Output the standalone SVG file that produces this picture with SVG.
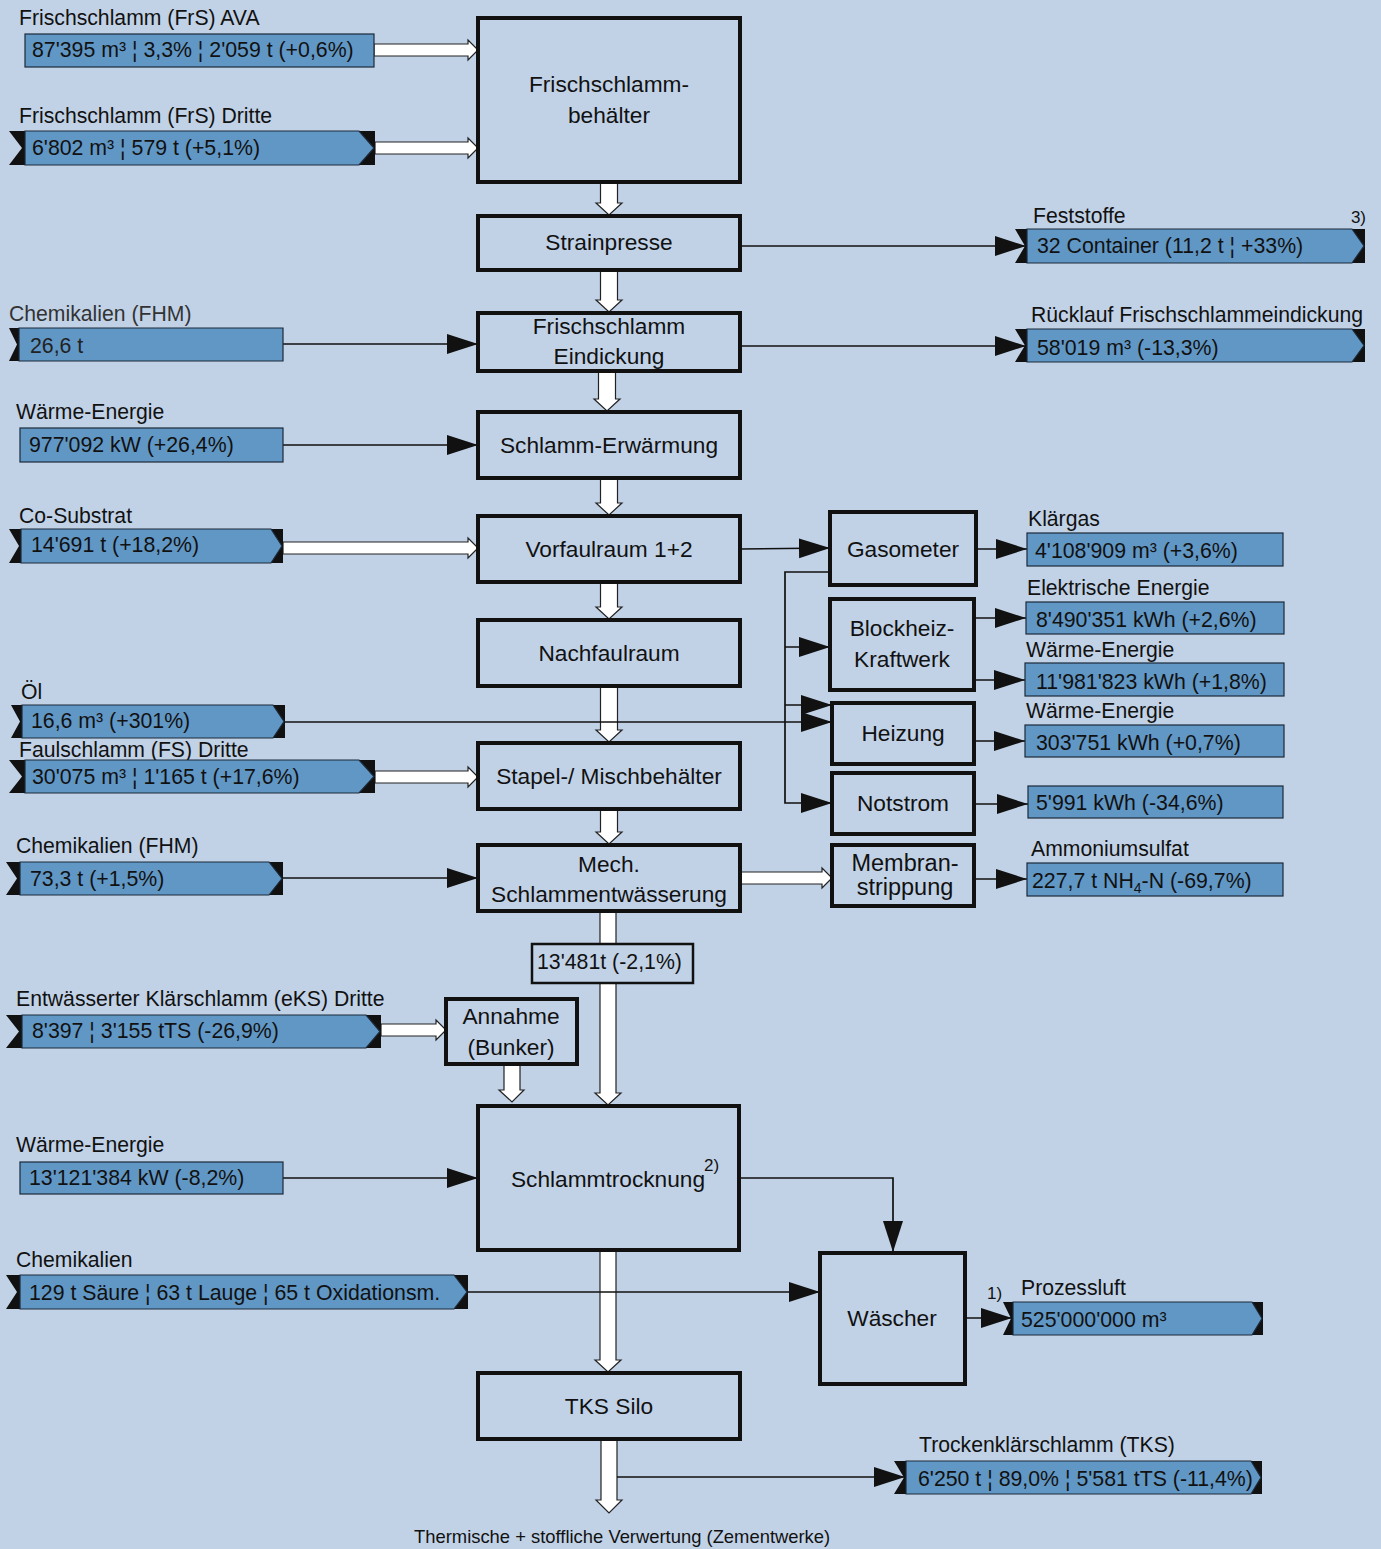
<svg xmlns="http://www.w3.org/2000/svg" width="1381" height="1549" viewBox="0 0 1381 1549">
<style>
text{font-family:"Liberation Sans",Arial,sans-serif;fill:#111}
.lbl{font-size:21.2px}
.dat{font-size:21.3px}
.box{font-size:22.7px;text-anchor:middle}
.nb{fill:none;stroke:#111;stroke-width:4}
.blk{fill:#111}
.blue{fill:#6197c5;stroke:#1c2a3a;stroke-width:1.2}
.hol{fill:#fff;stroke:#222;stroke-width:1.2}
.ln{fill:none;stroke:#111;stroke-width:1.7;marker-end:url(#ah)}
.sm{font-size:17px}
</style>
<defs>
<marker id="ah" markerUnits="userSpaceOnUse" markerWidth="32" markerHeight="22" refX="31" refY="10" orient="auto" viewBox="0 0 32 22">
<path d="M0,0 L31,10 L0,20 z" fill="#111"/>
</marker>
</defs>
<rect width="1381" height="1549" fill="#c1d2e7"/>

<g id="connectors">
<polygon class="hol" points="374,44 468,44 468,40 478,50 468,60 468,56 374,56"/>
<polygon class="hol" points="375,142 468,142 468,138 478,148 468,158 468,154 375,154"/>
<polygon class="hol" points="283,542 468,542 468,538 478,548 468,558 468,554 283,554"/>
<polygon class="hol" points="375,771 468,771 468,767 478,777 468,787 468,783 375,783"/>
<polygon class="hol" points="381,1024 436,1024 436,1020 446,1030 436,1040 436,1036 381,1036"/>
<polygon class="hol" points="740,872 822,872 822,868 832,878 822,888 822,884 740,884"/>
<polygon class="hol" points="600.5,182 617.5,182 617.5,203 622,203 609,215 596,203 600.5,203"/>
<polygon class="hol" points="600.5,270 617.5,270 617.5,300 622,300 609,312 596,300 600.5,300"/>
<polygon class="hol" points="598.5,371 615.5,371 615.5,399 620,399 607,411 594,399 598.5,399"/>
<polygon class="hol" points="600.5,478 617.5,478 617.5,503 622,503 609,515 596,503 600.5,503"/>
<polygon class="hol" points="600.5,582 617.5,582 617.5,607 622,607 609,619 596,607 600.5,607"/>
<polygon class="hol" points="600.5,686 617.5,686 617.5,730 622,730 609,742 596,730 600.5,730"/>
<polygon class="hol" points="600.5,809 617.5,809 617.5,832 622,832 609,844 596,832 600.5,832"/>
<polygon class="hol" points="600,911 616,911 616,1093 621,1093 608,1105 595,1093 600,1093"/>
<polygon class="hol" points="504,1064 520,1064 520,1090 524,1090 512,1102 499,1090 504,1090"/>
<polygon class="hol" points="600,1250 616,1250 616,1360 621,1360 608,1372 595,1360 600,1360"/>
<polygon class="hol" points="601,1439 617,1439 617,1500 622,1500 609,1513 596,1500 601,1500"/>
<line class="ln" x1="740" y1="246" x2="1026" y2="246"/>
<line class="ln" x1="740" y1="346" x2="1026" y2="346"/>
<line class="ln" x1="283" y1="344" x2="478" y2="344"/>
<line class="ln" x1="283" y1="445" x2="478" y2="445"/>
<line class="ln" x1="740" y1="549" x2="830" y2="548"/>
<line class="ln" x1="976" y1="549" x2="1027" y2="549"/>
<path class="ln" d="M830,572 H785 V803 H832"/>
<line class="ln" x1="785" y1="647" x2="830" y2="647"/>
<line class="ln" x1="785" y1="705" x2="832" y2="705"/>
<line class="ln" x1="285" y1="722" x2="832" y2="722"/>
<line class="ln" x1="974" y1="618" x2="1026" y2="618"/>
<line class="ln" x1="974" y1="680" x2="1025" y2="680"/>
<line class="ln" x1="974" y1="741" x2="1025" y2="741"/>
<line class="ln" x1="974" y1="804" x2="1028" y2="804"/>
<line class="ln" x1="974" y1="879" x2="1027" y2="879"/>
<line class="ln" x1="283" y1="878" x2="478" y2="878"/>
<line class="ln" x1="283" y1="1178" x2="478" y2="1178"/>
<path class="ln" d="M739,1178 H893 V1252"/>
<line class="ln" x1="468" y1="1292" x2="820" y2="1292"/>
<line class="ln" x1="965" y1="1318" x2="1012" y2="1318"/>
<line class="ln" x1="617" y1="1477" x2="905" y2="1477"/>
</g>

<g id="frischschlammbehaelter"><rect class="nb" x="478" y="18" width="262" height="164"/><text class="box" x="609" y="92">Frischschlamm-</text><text class="box" x="609" y="123">behälter</text></g>
<g id="strainpresse"><rect class="nb" x="478" y="216" width="262" height="54"/><text class="box" x="609" y="250">Strainpresse</text></g>
<g id="eindickung"><rect class="nb" x="478" y="313" width="262" height="58"/><text class="box" x="609" y="334">Frischschlamm</text><text class="box" x="609" y="364">Eindickung</text></g>
<g id="erwaermung"><rect class="nb" x="478" y="412" width="262" height="66"/><text class="box" x="609" y="453">Schlamm-Erwärmung</text></g>
<g id="vorfaulraum"><rect class="nb" x="478" y="516" width="262" height="66"/><text class="box" x="609" y="557">Vorfaulraum 1+2</text></g>
<g id="nachfaulraum"><rect class="nb" x="478" y="620" width="262" height="66"/><text class="box" x="609" y="661">Nachfaulraum</text></g>
<g id="stapel"><rect class="nb" x="478" y="743" width="262" height="66"/><text class="box" x="609" y="784">Stapel-/ Mischbehälter</text></g>
<g id="mech"><rect class="nb" x="478" y="845" width="262" height="66"/><text class="box" x="609" y="872">Mech.</text><text class="box" x="609" y="902">Schlammentwässerung</text></g>
<g id="menge"><rect x="532" y="944" width="161" height="39" fill="#c1d2e7" stroke="#111" stroke-width="2.5"/><text class="dat" x="537" y="969">13'481t (-2,1%)</text></g>
<g id="annahme"><rect class="nb" x="446" y="999" width="131" height="65"/><text class="box" x="511" y="1024">Annahme</text><text class="box" x="511" y="1055">(Bunker)</text></g>
<g id="schlammtrocknung"><rect class="nb" x="478" y="1106" width="261" height="144"/><text class="box" x="608" y="1187">Schlammtrocknung</text><text class="sm" x="704" y="1171">2)</text></g>
<g id="tkssilo"><rect class="nb" x="478" y="1373" width="262" height="66"/><text class="box" x="609" y="1414">TKS Silo</text></g>
<g id="waescher"><rect class="nb" x="820" y="1253" width="145" height="131"/><text class="box" x="892" y="1326">Wäscher</text></g>
<g id="gasometer"><rect class="nb" x="830" y="512" width="146" height="73"/><text class="box" x="903" y="557">Gasometer</text></g>
<g id="bhkw"><rect class="nb" x="830" y="599" width="144" height="91"/><text class="box" x="902" y="636">Blockheiz-</text><text class="box" x="902" y="667">Kraftwerk</text></g>
<g id="heizung"><rect class="nb" x="832" y="703" width="142" height="61"/><text class="box" x="903" y="741">Heizung</text></g>
<g id="notstrom"><rect class="nb" x="832" y="773" width="142" height="61"/><text class="box" x="903" y="811">Notstrom</text></g>
<g id="membran"><rect class="nb" x="832" y="845" width="142" height="61"/><text class="box" x="905" y="871" style="font-size:23.5px">Membran-</text><text class="box" x="905" y="895" style="font-size:23.5px">strippung</text></g>

<g id="d-frs-ava"><text class="lbl" x="19" y="25">Frischschlamm (FrS) AVA</text><rect class="blue" x="25" y="34" width="349" height="33"/><text class="dat" x="32" y="57">87'395 m³ ¦ 3,3% ¦ 2'059 t (+0,6%)</text></g>
<g id="d-frs-dritte"><text class="lbl" x="19" y="123">Frischschlamm (FrS) Dritte</text><polygon class="blk" points="9,131 375,131 375,165 9,165 22,148"/><polygon class="blue" points="25,131 359,131 374,148 359,165 25,165"/><text class="dat" x="32" y="155">6'802 m³ ¦ 579 t (+5,1%)</text></g>
<g id="d-feststoffe"><text class="lbl" x="1033" y="223">Feststoffe</text><text class="sm" x="1366" y="223" text-anchor="end">3)</text><polygon class="blk" points="1015,229 1365,229 1365,263 1015,263 1025,246"/><polygon class="blue" points="1027,229 1352,229 1364,246 1352,263 1027,263"/><text class="dat" x="1037" y="253">32 Container (11,2 t ¦ +33%)</text></g>
<g id="d-ruecklauf"><text class="lbl" x="1031" y="322">Rücklauf Frischschlammeindickung</text><polygon class="blk" points="1015,329 1365,329 1365,362 1015,362 1025,345.5"/><polygon class="blue" points="1027,329 1352,329 1364,345.5 1352,362 1027,362"/><text class="dat" x="1037" y="355">58'019 m³ (-13,3%)</text></g>
<g id="d-chem1"><text class="lbl" x="9" y="321" style="fill:#333">Chemikalien (FHM)</text><polygon class="blk" points="9,328 20,328 20,361 9,361 17,344.5"/><polygon class="blue" points="19,328 283,328 283,361 19,361"/><text class="dat" x="30" y="353" style="fill:#222">26,6 t</text></g>
<g id="d-waerme1"><text class="lbl" x="16" y="419">Wärme-Energie</text><rect class="blue" x="20" y="428" width="263" height="34"/><text class="dat" x="29" y="452">977'092 kW (+26,4%)</text></g>
<g id="d-cosubstrat"><text class="lbl" x="19" y="523">Co-Substrat</text><polygon class="blk" points="9,529 283,529 283,563 9,563 19,546"/><polygon class="blue" points="21,529 271,529 282,546 271,563 21,563"/><text class="dat" x="31" y="552">14'691 t (+18,2%)</text></g>
<g id="d-oel"><text class="lbl" x="21" y="699">Öl</text><polygon class="blk" points="11,705 285,705 285,738 11,738 20,721.5"/><polygon class="blue" points="22,705 273,705 284,721.5 273,738 22,738"/><text class="dat" x="31" y="728">16,6 m³ (+301%)</text></g>
<g id="d-fs-dritte"><text class="lbl" x="19" y="757">Faulschlamm (FS) Dritte</text><polygon class="blk" points="9,760 375,760 375,793 9,793 22,776.5"/><polygon class="blue" points="25,760 359,760 374,776.5 359,793 25,793"/><text class="dat" x="32" y="784">30'075 m³ ¦ 1'165 t (+17,6%)</text></g>
<g id="d-chem2"><text class="lbl" x="16" y="853">Chemikalien (FHM)</text><polygon class="blk" points="6,862 283,862 283,895 6,895 17,878.5"/><polygon class="blue" points="20,862 269,862 282,878.5 269,895 20,895"/><text class="dat" x="30" y="886">73,3 t (+1,5%)</text></g>
<g id="d-eks"><text class="lbl" x="16" y="1006">Entwässerter Klärschlamm (eKS) Dritte</text><polygon class="blk" points="6,1015 381,1015 381,1048 6,1048 19,1031.5"/><polygon class="blue" points="22,1015 366,1015 380,1031.5 366,1048 22,1048"/><text class="dat" x="32" y="1038">8'397 ¦ 3'155 tTS (-26,9%)</text></g>
<g id="d-waerme2"><text class="lbl" x="16" y="1152">Wärme-Energie</text><rect class="blue" x="20" y="1162" width="263" height="32"/><text class="dat" x="29" y="1185">13'121'384 kW (-8,2%)</text></g>
<g id="d-chem3"><text class="lbl" x="16" y="1267">Chemikalien</text><polygon class="blk" points="6,1275 468,1275 468,1309 6,1309 17,1292"/><polygon class="blue" points="20,1275 454,1275 467,1292 454,1309 20,1309"/><text class="dat" x="29" y="1300">129 t Säure ¦ 63 t Lauge ¦ 65 t Oxidationsm.</text></g>
<g id="d-klaergas"><text class="lbl" x="1028" y="526">Klärgas</text><rect class="blue" x="1027" y="533" width="256" height="33"/><text class="dat" x="1035" y="558">4'108'909 m³ (+3,6%)</text></g>
<g id="d-elektr"><text class="lbl" x="1027" y="595">Elektrische Energie</text><rect class="blue" x="1026" y="602" width="258" height="32"/><text class="dat" x="1036" y="627">8'490'351 kWh (+2,6%)</text></g>
<g id="d-waerme3"><text class="lbl" x="1026" y="657">Wärme-Energie</text><rect class="blue" x="1025" y="663" width="259" height="33"/><text class="dat" x="1036" y="689">11'981'823 kWh (+1,8%)</text></g>
<g id="d-waerme4"><text class="lbl" x="1026" y="718">Wärme-Energie</text><rect class="blue" x="1025" y="725" width="259" height="32"/><text class="dat" x="1036" y="750">303'751 kWh (+0,7%)</text></g>
<g id="d-notstrom"><rect class="blue" x="1028" y="786" width="255" height="32"/><text class="dat" x="1036" y="810">5'991 kWh (-34,6%)</text></g>
<g id="d-ammonium"><text class="lbl" x="1031" y="856">Ammoniumsulfat</text><rect class="blue" x="1027" y="863" width="256" height="33"/><text class="dat" x="1032" y="888">227,7 t NH<tspan font-size="14" dy="5">4</tspan><tspan dy="-5">-N (-69,7%)</tspan></text></g>
<g id="d-prozessluft"><text class="sm" x="987" y="1299">1)</text><text class="lbl" x="1021" y="1295">Prozessluft</text><polygon class="blk" points="1003,1302 1263,1302 1263,1335 1003,1335 1011,1318.5"/><polygon class="blue" points="1013,1302 1252,1302 1262,1318.5 1252,1335 1013,1335"/><text class="dat" x="1021" y="1327">525'000'000 m³</text></g>
<g id="d-tks"><text class="lbl" x="919" y="1452">Trockenklärschlamm (TKS)</text><polygon class="blk" points="894,1461 1262,1461 1262,1494 894,1494 904,1477.5"/><polygon class="blue" points="906,1461 1251,1461 1261,1477.5 1251,1494 906,1494"/><text class="dat" x="918" y="1486">6'250 t ¦ 89,0% ¦ 5'581 tTS (-11,4%)</text></g>
<g id="ausgang"><text x="414" y="1543" style="font-size:18.4px">Thermische + stoffliche Verwertung (Zementwerke)</text></g>
</svg>
